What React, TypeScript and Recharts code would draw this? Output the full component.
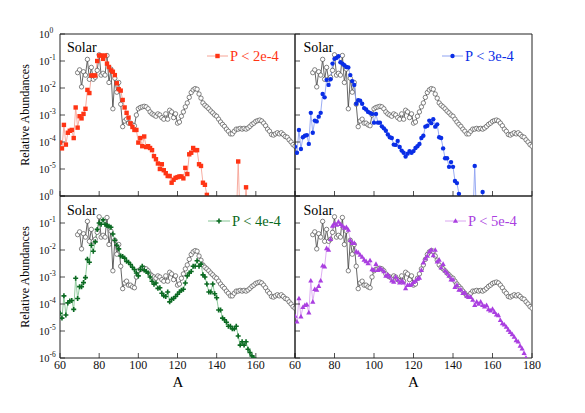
import React from 'react';
import { LineChart, Line, XAxis, YAxis } from 'recharts';

// ---------- data ----------
const MASS_NUMBERS = [
  60, 61, 62, 63, 64, 65, 66, 67, 68, 69,
  70, 71, 72, 73, 74, 75, 76, 77, 78, 79,
  80, 81, 82, 83, 84, 85, 86, 87, 88, 89,
  90, 91, 92, 93, 94, 95, 96, 97, 98, 99,
  100, 101, 102, 103, 104, 105, 106, 107, 108, 109,
  110, 111, 112, 113, 114, 115, 116, 117, 118, 119,
  120, 121, 122, 123, 124, 125, 126, 127, 128, 129,
  130, 131, 132, 133, 134, 135, 136, 137, 138, 139,
  140, 141, 142, 143, 144, 145, 146, 147, 148, 149,
  150, 151, 152, 153, 154, 155, 156, 157, 158, 159,
  160, 161, 162, 163, 164, 165, 166, 167, 168, 169,
  170, 171, 172, 173, 174, 175, 176, 177, 178, 179,
  180,
];

const SOLAR: (number | null)[] = [
  null, null, null, null, null, null, null, null, null, 0.037,
  0.047, 0.011, 0.04, 0.03, 0.115, 0.021, 0.058, 0.021, 0.025, 0.045,
  0.17, 0.03, 0.035, 0.03, 0.16, 0.016, 0.05, 0.0017, 0.023, 0.007,
  0.016, 0.0025, 0.00037, 0.0006, 0.0007, 0.0005, 0.0005, 0.00043, 0.0004, 0.001,
  0.0017, 0.0019, 0.002, 0.0021, 0.002, 0.0017, 0.0013, 0.0011, 0.001, 0.0009,
  0.0011, 0.001, 0.0008, 0.0007, 0.0011, 0.0007, 0.0015, 0.0013, 0.0008, 0.0011,
  0.0005, 0.00055, 0.0009, 0.0013, 0.002, 0.0028, 0.0045, 0.0068, 0.0085, 0.0095,
  0.009, 0.006, 0.0042, 0.0028, 0.0023, 0.002, 0.0017, 0.0014, 0.0012, 0.001,
  0.0009, 0.0007, 0.00055, 0.00045, 0.00038, 0.0003, 0.00025, 0.0002, 0.0002, 0.00025,
  0.0003, 0.0003, 0.00032, 0.0003, 0.00032, 0.0003, 0.00033, 0.00038, 0.00045, 0.0005,
  0.00058, 0.00062, 0.00065, 0.0006, 0.0005, 0.0004, 0.0003, 0.00025, 0.00019, 0.00018,
  0.0002, 0.00022, 0.0002, 0.00022, 0.00019, 0.00016, 0.00015, 0.00012, 0.0001, 0.00008,
  0.00007,
];

const P_2E4: (number | null)[] = [
  9.5e-5, 5.8e-5, 4.3e-4, 8e-5, 2.2e-4, 2.6e-4, 2.8e-4, 1.4e-4, 1.9e-3, 3.4e-4,
  9e-4, 7.5e-4, 1.1e-3, 1.7e-3, 8.5e-3, 6.5e-3, 0.029, 0.029, 0.029, 0.1,
  0.16, 0.16, 0.12, 0.16, 0.08, 0.06, 0.045, 0.04, 0.03, 0.015,
  0.009, 0.008, 3.6e-3, 1.9e-3, 1.2e-3, 8e-4, 4.9e-4, 3.6e-4, 2.8e-4, 2.8e-4,
  9.5e-5, 1.4e-4, 7e-5, 1.6e-4, 6.5e-5, 7e-5, 6e-5, 5e-5, 3e-5, 2.3e-5,
  1.6e-5, 1e-5, 1.5e-5, 9e-6, 7e-6, 5.5e-6, 5.5e-6, 3.1e-6, 4e-6, 4.7e-6,
  5e-6, 5.3e-6, 5.3e-6, 4.5e-6, 1.1e-5, 6.5e-6, 3.5e-5, 4e-5, 6e-5, 5e-5,
  5e-5, 1.5e-5, 1.3e-5, 3.1e-6, 2.6e-6, 1.1e-6, 1e-7, 1e-7, 1e-7, 1e-7,
  1e-7, 1e-7, 1e-7, 1e-7, 1e-7, 1e-7, 1e-7, 1e-7, 1e-7, 1e-7,
  1e-7, 1.9e-5, 1e-7, 1e-7, 1e-7, 2.1e-6, 1e-7, null, null, null,
  null, null, null, null, null, null, null, null, null, null,
  null, null, null, null, null, null, null, null, null, null,
  null,
];

const P_3E4: (number | null)[] = [
  6.7e-5, 4e-5, 2.8e-4, 5.5e-5, 1.5e-4, 1.7e-4, 1.8e-4, 8.5e-5, 1.2e-3, 2.2e-4,
  6.2e-4, 5.8e-4, 8.7e-4, 1.2e-3, 6e-3, 4.5e-3, 0.02, 0.013, 0.021, 0.08,
  0.12, 0.13, 0.15, 0.09, 0.08, 0.07, 0.06, 0.058, 0.03, 0.018,
  0.013, 2.6e-3, 3.5e-3, 3.4e-3, 2.6e-3, 1.8e-3, 1.6e-3, 1.3e-3, 1.2e-3, 1.1e-3,
  5.2e-4, 1.1e-3, 5.2e-4, 5.2e-4, 3.8e-4, 3.2e-4, 2.6e-4, 1.9e-4, 1.5e-4, 1.4e-4,
  8e-5, 7.8e-5, 1.1e-4, 6.5e-5, 4.8e-5, 4e-5, 2.9e-5, 3.7e-5, 4.6e-5, 4e-5,
  4.6e-5, 6e-5, 7e-5, 8.5e-5, 1.4e-4, 1.7e-4, 3.7e-4, 4e-4, 6.2e-4, 5e-4,
  7e-4, 3.7e-4, 4.5e-4, 1.5e-4, 1.4e-4, 5.8e-5, 2.5e-5, 2.5e-5, 1.2e-5, 1.8e-5,
  1.2e-5, 3.6e-6, 3e-6, 1.2e-6, 1e-7, 1e-7, 1e-7, 1e-7, 1e-7, 1e-7,
  1e-7, 1.3e-5, 1e-7, 1e-7, 1e-7, 1.4e-6, 1e-7, null, null, null,
  null, null, null, null, null, null, null, null, null, null,
  null, null, null, null, null, null, null, null, null, null,
  null,
];

const P_4E4: (number | null)[] = [
  4.5e-5, 3e-5, 2e-4, 3.9e-5, 1.1e-4, 1.3e-4, 1.35e-4, 6.3e-5, 9e-4, 1.6e-4,
  4.4e-4, 4.4e-4, 6.2e-4, 9.5e-4, 4.5e-3, 3.5e-3, 0.015, 9e-3, 0.02, 0.058,
  0.1, 0.09, 0.13, 0.09, 0.08, 0.075, 0.07, 0.039, 0.023, 0.015,
  0.011, 6e-3, 5.7e-3, 5e-3, 3.8e-3, 3.5e-3, 2.9e-3, 2.3e-3, 1.9e-3, 1.4e-3,
  1.1e-3, 1.9e-3, 2.5e-3, 1.8e-3, 1.6e-3, 1.4e-3, 1e-3, 7e-4, 5.4e-4, 6e-4,
  3.8e-4, 4e-4, 2.5e-4, 2e-4, 1.9e-4, 2.8e-4, 1.2e-4, 1.5e-4, 1.6e-4, 1.9e-4,
  2.3e-4, 2.8e-4, 3.2e-4, 3.5e-4, 6e-4, 1.1e-3, 1.4e-3, 1.6e-3, 2.5e-3, 2.5e-3,
  4e-3, 2.5e-3, 3e-3, 1.2e-3, 1e-3, 5.5e-4, 2.8e-4, 2.8e-4, 5.5e-4, 2.4e-4,
  1.7e-4, 6e-5, 6e-5, 3e-5, 2.6e-5, 2.1e-5, 1.5e-5, 1.5e-5, 1.2e-5, 1.2e-5,
  1.5e-5, 6.5e-6, 3e-6, 4e-6, 3e-6, 4e-6, 2.1e-6, 1.6e-6, 1.2e-6, 1e-6,
  3e-7, null, null, null, null, null, null, null, null, null,
  null, null, null, null, null, null, null, null, null, null,
  null,
];

const P_5E4: (number | null)[] = [
  3.6e-5, 2.2e-5, 1.6e-4, 3.4e-5, 7.6e-5, 9e-5, 9.5e-5, 4.8e-5, 7.3e-4, 1.2e-4,
  3.5e-4, 3.3e-4, 4.6e-4, 7.3e-4, 2.6e-3, 2.4e-3, 0.0115, 0.01, 0.025, 0.078,
  0.095, 0.085, 0.11, 0.09, 0.078, 0.065, 0.07, 0.055, 0.023, 0.018,
  0.018, 8.7e-3, 8e-3, 6.5e-3, 5.5e-3, 4.3e-3, 3.8e-3, 3.2e-3, 4.1e-3, 1.9e-3,
  1.8e-3, 3e-3, 1.8e-3, 2.1e-3, 1.9e-3, 1.6e-3, 1.1e-3, 1.2e-3, 1e-3, 7.3e-4,
  6.5e-4, 1e-3, 7.8e-4, 6.2e-4, 7.3e-4, 6.2e-4, 3.8e-4, 5e-4, 5e-4, 5.3e-4,
  6.4e-4, 7.2e-4, 8.5e-4, 9.3e-4, 1.8e-3, 3.4e-3, 4.8e-3, 6e-3, 8.7e-3, 0.01,
  6.3e-3, 0.01, 3.7e-3, 4.3e-3, 2.2e-3, 3e-3, 1.7e-3, 1.4e-3, 1.1e-3, 8e-4,
  8e-4, 4.2e-4, 5e-4, 3.3e-4, 3.4e-4, 2.5e-4, 2.6e-4, 2e-4, 1.8e-4, 1.8e-4,
  1.4e-4, 9e-5, 1.2e-4, 1e-4, 1.2e-4, 9e-5, 8e-5, 9e-5, 6.3e-5, 5.6e-5,
  6.5e-5, 5e-5, 4e-5, 3.8e-5, 2.5e-5, 1.9e-5, 1.7e-5, 1.4e-5, 1.1e-5, 9e-6,
  7.5e-6, 6e-6, 4.5e-6, 4e-6, 2.8e-6, 2.2e-6, 1.5e-6, 1e-6, 2e-7, null,
  null,
];

const X_DOMAIN = [60, 180];
const Y_DOMAIN = [1e-6, 1];
const X_MAJOR_TICKS = [60, 80, 100, 120, 140, 160, 180];
const X_MINOR_TICKS = [65, 70, 75, 85, 90, 95, 105, 110, 115, 125, 130, 135, 145, 150, 155, 165, 170, 175];
const Y_MAJOR_TICKS = [1e-6, 1e-5, 1e-4, 1e-3, 1e-2, 1e-1, 1];
const Y_MINOR_MULTIPLIERS = [2, 3, 4, 5, 6, 7, 8, 9];
const Y_MINOR_TICKS = Y_MAJOR_TICKS.slice(0, 6).flatMap((d) => Y_MINOR_MULTIPLIERS.map((m) => m * d));

const LEGEND_LABELS = ['P < 2e-4', 'P < 3e-4', 'P < 4e-4', 'P < 5e-4'];

// ---------- styling / layout ----------
const W = 585;
const H = 413;
const FONT = "'Liberation Serif', 'Times New Roman', Times, serif";
const AXIS = '#222';
const THIN = 0.01; // axis thickness (must be > 0 for recharts to draw it)

type Shape = 'square' | 'circle' | 'plus' | 'triangle' | 'open';

const toPoints = (vals: (number | null)[]) => MASS_NUMBERS.map((A, i) => ({ A, v: vals[i] }));

function shapeEl(shape: Shape, cx: number, cy: number, color: string) {
  switch (shape) {
    case 'square':
      return <rect x={cx - 2.2} y={cy - 2.2} width={4.4} height={4.4} fill={color} />;
    case 'circle':
      return <circle cx={cx} cy={cy} r={2.2} fill={color} />;
    case 'plus':
      return (
        <path
          d={`M${cx - 0.8} ${cy - 2.5}h1.6v1.7h1.7v1.6h-1.7v1.7h-1.6v-1.7h-1.7v-1.6h1.7z`}
          fill={color}
        />
      );
    case 'triangle':
      return <path d={`M${cx} ${cy - 2.8}L${cx + 2.6} ${cy + 1.8}L${cx - 2.6} ${cy + 1.8}Z`} fill={color} />;
    default:
      return <circle cx={cx} cy={cy} r={2.2} fill="#fff" stroke="#444" strokeWidth={0.65} />;
  }
}

const makeDot = (shape: Shape, color: string) => (props: any) => {
  const { cx, cy, index, value } = props;
  const k = `dot-${index}`;
  if (value == null || typeof cx !== 'number' || typeof cy !== 'number' || !isFinite(cx) || !isFinite(cy)) {
    return <g key={k} />;
  }
  return <g key={k}>{shapeEl(shape, cx, cy, color)}</g>;
};

const renderYTick = (show: boolean, hideMin: boolean) => (props: any) => {
  const { x, y, payload, index } = props;
  const exp = Math.round(Math.log10(payload.value));
  if (!show || (hideMin && exp === -6)) return <g key={`yt-${index}`} />;
  return (
    <text key={`yt-${index}`} x={x} y={y + 3.7} textAnchor="start" fontSize={10.5} fontFamily={FONT} fill="#111">
      10
      <tspan dy={-4.5} fontSize={7.5}>
        {String(exp)}
      </tspan>
    </text>
  );
};

const renderXTick = (show: boolean, hideMax: boolean) => (props: any) => {
  const { x, y, payload, index } = props;
  if (!show || (hideMax && payload.value === 180)) return <g key={`xt-${index}`} />;
  return (
    <text key={`xt-${index}`} x={x} y={y + 11} textAnchor="middle" fontSize={12} fontFamily={FONT} fill="#111">
      {payload.value}
    </text>
  );
};

type PanelCfg = {
  left: number;
  top: number;
  width: number;
  height: number;
  values: (number | null)[];
  marker: string;
  line: string;
  shape: Shape;
  showY: boolean;
  hideYMin: boolean;
  showX: boolean;
  hideXMax: boolean;
};

const PANELS: PanelCfg[] = [
  { left: 60, top: 34, width: 235, height: 162, values: P_2E4, marker: '#ff3414', line: '#f6a496', shape: 'square', showY: true, hideYMin: true, showX: false, hideXMax: false },
  { left: 295, top: 34, width: 237, height: 162, values: P_3E4, marker: '#0a2ee6', line: '#8fa3f2', shape: 'circle', showY: false, hideYMin: true, showX: false, hideXMax: false },
  { left: 60, top: 196, width: 235, height: 162, values: P_4E4, marker: '#0b6a22', line: '#84c493', shape: 'plus', showY: true, hideYMin: false, showX: true, hideXMax: true },
  { left: 295, top: 196, width: 237, height: 162, values: P_5E4, marker: '#aa3fe0', line: '#daa6f0', shape: 'triangle', showY: false, hideYMin: false, showX: true, hideXMax: false },
];

const SOLAR_POINTS = toPoints(SOLAR);

function Panel({ cfg }: { cfg: PanelCfg }) {
  const margin = {
    top: cfg.top - 2 * THIN,
    left: cfg.left - 2 * THIN,
    right: W - cfg.left - cfg.width - 2 * THIN,
    bottom: H - cfg.top - cfg.height - 2 * THIN,
  };
  const common = { type: 'number' as const, dataKey: 'A', domain: X_DOMAIN, allowDataOverflow: true, interval: 0 as const, height: THIN };
  const yCommon = { type: 'number' as const, scale: 'log' as const, domain: Y_DOMAIN, allowDataOverflow: true, interval: 0 as const, width: THIN };
  const tl = { stroke: AXIS, strokeWidth: 0.8 };
  return (
    <div style={{ position: 'absolute', left: 0, top: 0, width: W, height: H }}>
      <LineChart width={W} height={H} margin={margin}>
        <XAxis xAxisId="b" orientation="bottom" {...common} ticks={X_MAJOR_TICKS} tickSize={-5} tickMargin={5}
          axisLine={{ stroke: AXIS, strokeWidth: 1 }} tickLine={tl} tick={renderXTick(cfg.showX, cfg.hideXMax)} />
        <XAxis xAxisId="bm" orientation="bottom" {...common} ticks={X_MINOR_TICKS} tickSize={-3}
          axisLine={false} tickLine={tl} tick={false} />
        <XAxis xAxisId="t" orientation="top" {...common} ticks={X_MAJOR_TICKS} tickSize={-5}
          axisLine={{ stroke: AXIS, strokeWidth: 1 }} tickLine={tl} tick={false} />
        <XAxis xAxisId="tm" orientation="top" {...common} ticks={X_MINOR_TICKS} tickSize={-3}
          axisLine={false} tickLine={tl} tick={false} />
        <YAxis yAxisId="l" orientation="left" {...yCommon} ticks={Y_MAJOR_TICKS} tickSize={-5} tickMargin={26}
          axisLine={{ stroke: AXIS, strokeWidth: 1 }} tickLine={tl} tick={renderYTick(cfg.showY, cfg.hideYMin)} />
        <YAxis yAxisId="lm" orientation="left" {...yCommon} ticks={Y_MINOR_TICKS} tickSize={-3}
          axisLine={false} tickLine={tl} tick={false} />
        <YAxis yAxisId="r" orientation="right" {...yCommon} ticks={Y_MAJOR_TICKS} tickSize={-5}
          axisLine={{ stroke: AXIS, strokeWidth: 1 }} tickLine={tl} tick={false} />
        <YAxis yAxisId="rm" orientation="right" {...yCommon} ticks={Y_MINOR_TICKS} tickSize={-3}
          axisLine={false} tickLine={tl} tick={false} />
        <Line xAxisId="b" yAxisId="l" data={SOLAR_POINTS} dataKey="v" type="linear" stroke="#333" strokeWidth={0.75}
          dot={makeDot('open', '#444')} activeDot={false} isAnimationActive={false} connectNulls={false} />
        <Line xAxisId="b" yAxisId="l" data={toPoints(cfg.values)} dataKey="v" type="linear" stroke={cfg.line} strokeWidth={0.9}
          dot={makeDot(cfg.shape, cfg.marker)} activeDot={false} isAnimationActive={false} connectNulls={false} />
      </LineChart>
    </div>
  );
}

const LEGEND_POS = [
  { x1: 207, x2: 228, ly: 56, tx: 230, ty: 61 },
  { x1: 442, x2: 463, ly: 56, tx: 465, ty: 61 },
  { x1: 208, x2: 230, ly: 221, tx: 232, ty: 226 },
  { x1: 445, x2: 466, ly: 221, tx: 468, ty: 226 },
];
const SOLAR_POS = [
  { x: 67, y: 51.5 },
  { x: 303.5, y: 52 },
  { x: 67, y: 214.5 },
  { x: 303.5, y: 215 },
];

function Overlay() {
  return (
    <svg width={W} height={H} style={{ position: 'absolute', left: 0, top: 0 }}>
      {SOLAR_POS.map((p, i) => (
        <text key={`s${i}`} x={p.x} y={p.y} fontSize={14} fontFamily={FONT} fill="#000">
          Solar
        </text>
      ))}
      {PANELS.map((cfg, i) => {
        const lp = LEGEND_POS[i];
        const mx = (lp.x1 + lp.x2) / 2;
        return (
          <g key={`l${i}`}>
            <line x1={lp.x1} x2={lp.x2} y1={lp.ly} y2={lp.ly} stroke={cfg.line} strokeWidth={1} />
            {shapeEl(cfg.shape, mx, lp.ly, cfg.marker)}
            <text x={lp.tx} y={lp.ty} fontSize={14.5} fontFamily={FONT} fill={cfg.marker}>
              {LEGEND_LABELS[i]}
            </text>
          </g>
        );
      })}
      <text transform="translate(28.5,115) rotate(-90)" textAnchor="middle" fontSize={12} fontFamily={FONT} fill="#000">
        Relative Abundances
      </text>
      <text transform="translate(28.5,277) rotate(-90)" textAnchor="middle" fontSize={12} fontFamily={FONT} fill="#000">
        Relative Abundances
      </text>
      <text x={178} y={387} textAnchor="middle" fontSize={15} fontFamily={FONT} fill="#000">A</text>
      <text x={413.5} y={387} textAnchor="middle" fontSize={15} fontFamily={FONT} fill="#000">A</text>
    </svg>
  );
}

export default function App() {
  return (
    <div style={{ position: 'absolute', left: 0, top: 0, width: W, height: H, background: '#fff', overflow: 'hidden' }}>
      {PANELS.map((cfg, i) => (
        <Panel key={i} cfg={cfg} />
      ))}
      <Overlay />
    </div>
  );
}
